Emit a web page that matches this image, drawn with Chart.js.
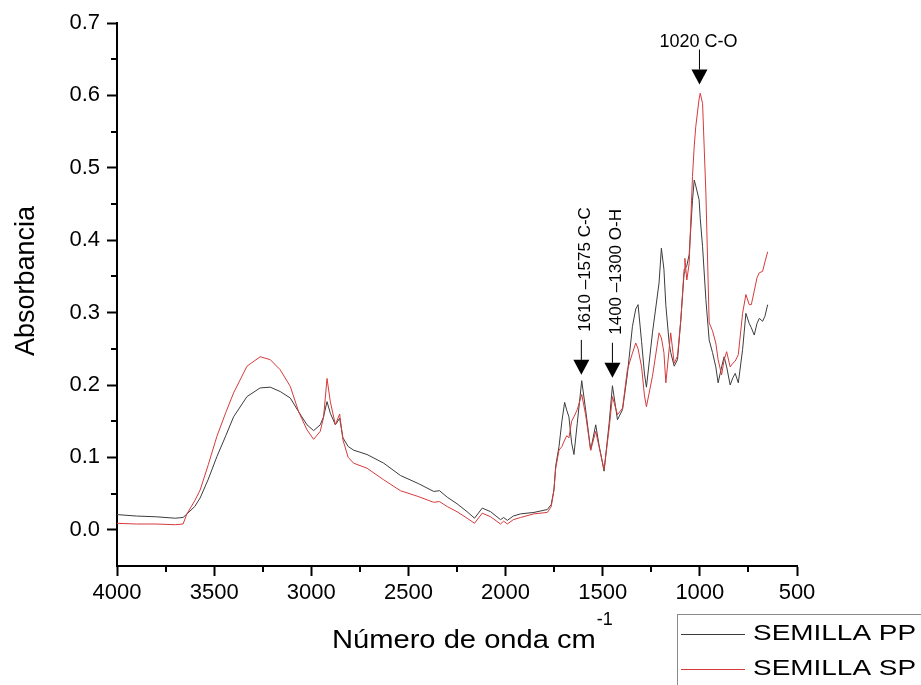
<!DOCTYPE html>
<html lang="es">
<head>
    <meta charset="UTF-8">
    <title>FTIR semilla</title>
    <script src="https://cdn.jsdelivr.net/npm/chart.js"></script>
    <style>
        body { margin: 0; background: #ffffff; }
        .wrap { width: 921px; height: 685px; }
    </style>
</head>
<body>
<div class="wrap"><canvas id="ftirChart" width="921" height="685"></canvas></div>
<script>
    const waveNumbers = [4000, 3900, 3800, 3700, 3660, 3640, 3600, 3572, 3530, 3486, 3440, 3400, 3331, 3263, 3211, 3160, 3108, 3065, 3022, 2988,
        2954, 2937, 2919, 2902, 2876, 2854, 2837, 2810, 2782, 2713, 2627, 2541, 2450, 2370, 2340, 2300, 2250, 2198, 2160, 2120,
        2077, 2026, 2010, 1991, 1960, 1923, 1854, 1785, 1765, 1751, 1742, 1725, 1710, 1696, 1685, 1674, 1660, 1648, 1631, 1608,
        1588, 1562, 1536, 1519, 1493, 1467, 1450, 1424, 1398, 1373, 1347, 1330, 1318, 1300, 1285, 1275, 1244, 1210, 1198, 1185,
        1175, 1158, 1150, 1132, 1115, 1098, 1081, 1077, 1067, 1055, 1038, 1029, 1021, 1004, 998, 986, 969, 952, 935, 918,
        906, 888, 875, 862, 844, 830, 818, 802, 780, 763, 746, 735, 720, 706, 694, 677, 665, 651];

    const semillaPP = [0.021, 0.019, 0.018, 0.016, 0.017, 0.022, 0.032, 0.044, 0.070, 0.101, 0.130, 0.156, 0.184, 0.196, 0.197, 0.191, 0.182, 0.163, 0.145, 0.137,
        0.145, 0.156, 0.177, 0.161, 0.145, 0.154, 0.127, 0.115, 0.110, 0.104, 0.092, 0.075, 0.064, 0.053, 0.054, 0.045, 0.036, 0.025, 0.016, 0.030,
        0.025, 0.014, 0.017, 0.013, 0.019, 0.022, 0.024, 0.028, 0.035, 0.055, 0.088, 0.115, 0.150, 0.176, 0.165, 0.156, 0.120, 0.104, 0.147, 0.206,
        0.166, 0.110, 0.145, 0.117, 0.081, 0.147, 0.199, 0.152, 0.166, 0.215, 0.281, 0.305, 0.311, 0.260, 0.215, 0.197, 0.272, 0.341, 0.389, 0.360,
        0.310, 0.258, 0.245, 0.226, 0.235, 0.290, 0.355, 0.360, 0.365, 0.380, 0.455, 0.483, 0.475, 0.456, 0.430, 0.391, 0.318, 0.262, 0.245, 0.225,
        0.203, 0.225, 0.239, 0.225, 0.200, 0.210, 0.216, 0.203, 0.249, 0.299, 0.285, 0.279, 0.269, 0.285, 0.292, 0.288, 0.295, 0.311];

    const semillaSP = [0.009, 0.008, 0.008, 0.007, 0.008, 0.022, 0.040, 0.055, 0.090, 0.129, 0.162, 0.189, 0.226, 0.239, 0.235, 0.221, 0.198, 0.163, 0.138, 0.125,
        0.136, 0.155, 0.209, 0.177, 0.145, 0.160, 0.124, 0.100, 0.092, 0.085, 0.069, 0.054, 0.046, 0.038, 0.039, 0.032, 0.025, 0.016, 0.009, 0.023,
        0.018, 0.008, 0.012, 0.008, 0.014, 0.017, 0.022, 0.024, 0.032, 0.055, 0.085, 0.110, 0.115, 0.124, 0.130, 0.127, 0.150, 0.156, 0.166, 0.187,
        0.159, 0.110, 0.136, 0.115, 0.083, 0.140, 0.184, 0.159, 0.168, 0.221, 0.244, 0.258, 0.250, 0.225, 0.185, 0.170, 0.212, 0.272, 0.265, 0.245,
        0.203, 0.250, 0.272, 0.230, 0.240, 0.290, 0.360, 0.375, 0.345, 0.368, 0.488, 0.530, 0.557, 0.595, 0.603, 0.589, 0.465, 0.286, 0.275, 0.258,
        0.235, 0.214, 0.235, 0.246, 0.225, 0.230, 0.233, 0.242, 0.299, 0.325, 0.311, 0.311, 0.330, 0.348, 0.355, 0.357, 0.370, 0.384];

    const seriesLabels = ['SEMILLA PP', 'SEMILLA SP'];
    const seriesColors = ['#3c3c3c', '#d63a3a'];

    // bandas marcadas con flechas: posicion en cm-1 y absorbancia de la punta
    const bandWave = [1610, 1450, 1002];
    const bandTip = [0.214, 0.210, 0.615];
    const bandText = ['1610 \u20131575 C-C', '1400 \u20131300 O-H', '1020 C-O'];
    const bandVertical = [true, true, false];

    const FONT = "'Liberation Sans', Arial, sans-serif";

    const minorTicks = {
        id: 'minorTicks',
        afterDraw(chart) {
            const { ctx, chartArea, scales: { x, y } } = chart;
            ctx.save();
            ctx.strokeStyle = '#000';
            ctx.lineWidth = 2;
            ctx.beginPath();
            for (let w = 750; w < 4000; w += 500) {
                const px = Math.round(x.getPixelForValue(w));
                ctx.moveTo(px, chartArea.bottom);
                ctx.lineTo(px, chartArea.bottom + 6);
            }
            for (let a = 0.05; a < 0.7; a += 0.1) {
                const py = Math.round(y.getPixelForValue(a));
                ctx.moveTo(chartArea.left, py);
                ctx.lineTo(chartArea.left - 6, py);
            }
            ctx.stroke();
            ctx.restore();
        }
    };

    const bandArrows = {
        id: 'bandArrows',
        afterDatasetsDraw(chart) {
            const { ctx, scales: { x, y } } = chart;
            ctx.save();
            ctx.fillStyle = '#000';
            ctx.strokeStyle = '#000';
            ctx.lineWidth = 1;
            bandWave.forEach((w, i) => {
                const px = x.getPixelForValue(w);
                const tip = y.getPixelForValue(bandTip[i]);
                const triTop = tip - 15;
                const lineTop = triTop - 20;
                ctx.beginPath();
                ctx.moveTo(px, triTop);
                ctx.lineTo(px, lineTop);
                ctx.stroke();
                ctx.beginPath();
                ctx.moveTo(px - 8, triTop);
                ctx.lineTo(px + 8, triTop);
                ctx.lineTo(px, tip);
                ctx.closePath();
                ctx.fill();
                if (bandVertical[i]) {
                    ctx.save();
                    ctx.translate(px + 9, lineTop - 8);
                    ctx.rotate(-Math.PI / 2);
                    ctx.font = '17px ' + FONT;
                    ctx.textAlign = 'left';
                    ctx.textBaseline = 'alphabetic';
                    ctx.fillText(bandText[i], 0, 0);
                    ctx.restore();
                } else {
                    ctx.font = '18px ' + FONT;
                    ctx.textAlign = 'center';
                    ctx.textBaseline = 'alphabetic';
                    ctx.fillText(bandText[i], px - 1, lineTop - 3);
                }
            });
            ctx.restore();
        }
    };

    const titlesAndLegend = {
        id: 'titlesAndLegend',
        afterDraw(chart) {
            const { ctx, chartArea } = chart;
            ctx.save();
            ctx.fillStyle = '#000';

            // titulo eje y
            ctx.save();
            ctx.translate(33.5, 281);
            ctx.rotate(-Math.PI / 2);
            ctx.font = '27px ' + FONT;
            ctx.textAlign = 'center';
            ctx.fillText('Absorbancia', 0, 0);
            ctx.restore();

            // titulo eje x con superindice
            const xt = 'Número de onda cm';
            ctx.font = '26px ' + FONT;
            const stretch = 1.12;
            const tw = ctx.measureText(xt).width * stretch;
            const x0 = chartArea.left + 215;
            ctx.save();
            ctx.translate(x0, 648);
            ctx.scale(stretch, 1);
            ctx.textAlign = 'left';
            ctx.fillText(xt, 0, 0);
            ctx.restore();
            ctx.font = '18px ' + FONT;
            ctx.fillText('-1', x0 + tw + 1, 625);

            // leyenda
            ctx.strokeStyle = '#8a8a8a';
            ctx.lineWidth = 1;
            ctx.strokeRect(677.5, 614.5, 300, 100);
            ctx.font = '22px ' + FONT;
            const rows = [639.5, 675];
            chart.data.datasets.forEach((ds, i) => {
                const ly = Math.round(rows[i] - 6) + 0.5;
                ctx.strokeStyle = seriesColors[i];
                ctx.lineWidth = 1;
                ctx.beginPath();
                ctx.moveTo(681, ly);
                ctx.lineTo(745, ly);
                ctx.stroke();
                ctx.save();
                ctx.translate(753, rows[i]);
                ctx.scale(1.27, 1);
                ctx.fillStyle = '#000';
                ctx.fillText(ds.label, 0, 0);
                ctx.restore();
            });
            ctx.restore();
        }
    };

    const makeData = vals => waveNumbers.map((w, i) => ({ x: w, y: vals[i] }));

    const ctx = document.getElementById('ftirChart').getContext('2d');
    const ftirChart = new Chart(ctx, {
        type: 'line',
        data: {
            datasets: [
                { label: seriesLabels[0], data: makeData(semillaPP), borderColor: seriesColors[0], borderWidth: 1, pointRadius: 0, tension: 0, order: 2 },
                { label: seriesLabels[1], data: makeData(semillaSP), borderColor: seriesColors[1], borderWidth: 1, pointRadius: 0, tension: 0, order: 1 }
            ]
        },
        options: {
            responsive: false,
            animation: false,
            devicePixelRatio: 1,
            layout: { padding: { top: 23, right: 124, left: 0, bottom: 0 } },
            plugins: {
                legend: { display: false },
                tooltip: { enabled: false }
            },
            scales: {
                x: {
                    type: 'linear',
                    min: 500,
                    max: 4000,
                    reverse: true,
                    border: { display: true, color: '#000', width: 2 },
                    grid: { display: true, drawOnChartArea: false, drawTicks: true, tickLength: 10, tickColor: '#000', tickWidth: 2 },
                    ticks: {
                        stepSize: 500,
                        color: '#000',
                        padding: 4,
                        maxRotation: 0,
                        autoSkip: false,
                        font: { family: FONT, size: 22 },
                        callback: v => String(v)
                    },
                    afterFit: s => { s.height = 119; }
                },
                y: {
                    min: -0.05,
                    max: 0.7,
                    border: { display: true, color: '#000', width: 2 },
                    grid: { display: true, drawOnChartArea: false, drawTicks: true, tickLength: 10, tickColor: '#000', tickWidth: 2 },
                    ticks: {
                        stepSize: 0.1,
                        includeBounds: false,
                        color: '#000',
                        padding: 7,
                        font: { family: FONT, size: 22 },
                        callback: v => v.toFixed(1)
                    },
                    afterFit: s => { s.width = 117; }
                }
            }
        },
        plugins: [minorTicks, bandArrows, titlesAndLegend]
    });
</script>
</body>
</html>
